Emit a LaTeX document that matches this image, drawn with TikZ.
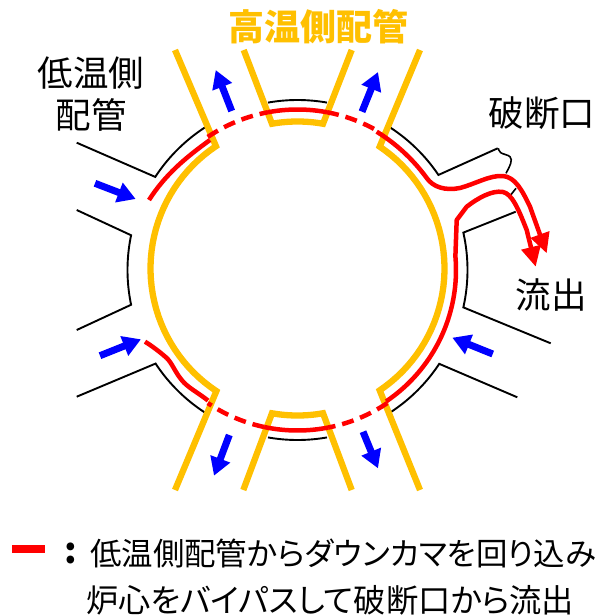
\documentclass[tikz,border=0pt]{standalone}
\usepackage{fontspec}
\usetikzlibrary{arrows.meta}
\newfontfamily\jp[RawFeature=+palt]{Noto Sans CJK JP}
\definecolor{hotyel}{RGB}{255,192,0}
\tikzset{
  yel/.style={draw=hotyel,line width=6.3pt,line join=miter,miter limit=10},
  redl/.style={draw=red,line width=4.5pt,line join=round},
  redd/.style={draw=red,line width=4.5pt,dash pattern=on 12pt off 7pt},
  redarrow/.style={redl,-{Triangle[length=20pt,width=19pt]}},
  blk/.style={draw=black,line width=1.9pt,line join=miter},
  bluearrow/.style={draw=blue,line width=7pt,-{Triangle[length=18pt,width=20pt]}},
  lbl/.style={font=\jp\fontsize{35.5}{35.5}\selectfont,inner sep=0pt,text=black},
  hot/.style={font=\jp\bfseries\fontsize{36}{36}\selectfont,inner sep=0pt,text=hotyel},
  capt/.style={font=\jp\fontsize{34}{34}\selectfont,inner sep=0pt,text=black},
  arcd/.style 2 args={domain=#1:#2,samples=40}
}
\def\yx{297.5+147*cos(\x)}
\def\yy{268.5+147*sin(\x)}
\def\kx{297.5+170*cos(\x)}
\def\ky{270+170*sin(\x)}
\def\rx{297.5+160.5*cos(\x)}
\def\ry{270+160.5*sin(\x)}
\def\sx{297.5+158.5*cos(\x)}
\def\sy{270+158.5*sin(\x)}
\begin{document}
\begin{tikzpicture}[x=1pt,y=-1pt]
\useasboundingbox[fill=white] (0,0) rectangle (596,616);
% black vessel and nozzles
\draw[blk] (76.7,142.7) -- plot[arcd={213.2}{238.6}] ({\kx},{\ky});
\draw[blk] (76.7,210) -- plot[arcd={191.8}{168.2}] ({\kx},{\ky}) -- (76.7,330);
\draw[blk] (76.7,396.7) -- plot[arcd={146.6}{121.9}] ({\kx},{\ky});
\draw[blk] plot[arcd={260}{280}] ({\kx},{\ky});
\draw[blk] plot[arcd={80}{100}] ({\kx},{\ky});
\draw[blk] plot[arcd={58.4}{33.5}] ({\kx},{\ky}) -- (517.3,397.3);
\draw[blk] (550.7,343.3) -- plot[arcd={12.7}{-12.7}] ({\kx},{\ky}) -- (515.7,211.7);
\draw[blk] plot[arcd={-58.6}{-34}] ({\kx},{\ky}) -- (497.7,148.3);
\draw[blk,line width=1.6pt] plot[smooth,tension=.6] coordinates {(498.3,148.3) (500.7,152.7) (510,156.7) (510.7,163.3) (506,173.3)};
\draw[blk,line width=1.6pt] (516,188.3) -- (510.7,195);
% yellow pipes
\draw[yel] (175,50) -- plot[arcd={236.3}{123.5}] ({\yx},{\yy}) -- (175,490);
\draw[yel] (243.7,50) -- plot[arcd={260}{280}] ({\yx},{\yy}) -- (351.7,50);
\draw[yel] (420,50) -- plot[arcd={-56}{56}] ({\yx},{\yy}) -- (420,490);
\draw[yel] (243.3,490) -- plot[arcd={100}{80}] ({\yx},{\yy}) -- (351.7,490);
% red flow
\draw[redl] (149,200) .. controls (165,175) and (185,158) .. (210,140);
\draw[redd] plot[arcd={236}{259.4}] ({\rx},{\ry});
\draw[redl] plot[arcd={259.4}{280.6}] ({\rx},{\ry});
\draw[redd] plot[arcd={280.6}{300}] ({\rx},{\ry});
\draw[redarrow] (376.7,131.7) .. controls (395,143) and (412,158) .. (426.7,178) .. controls (433,187) and (445,191) .. (460,188) .. controls (475,184) and (490,175) .. (503,176) .. controls (515,177) and (522,190) .. (530,206.7) -- (546.7,253.3);
\draw[redarrow] plot[arcd={56}{-5}] ({\sx},{\sy}) -- (456.7,220) -- (466.7,206.7) .. controls (478,198) and (492,190) .. (503,192) .. controls (512,194) and (518,208) .. (526.7,230) -- (535.7,266.7);
\draw[redd] plot[arcd={56}{79}] ({\rx},{\ry});
\draw[redl] plot[arcd={79}{102}] ({\rx},{\ry});
\draw[redd] plot[arcd={102}{124}] ({\rx},{\ry});
\draw[redl] (208,400.5) .. controls (197,392) and (187,387) .. (181.7,380) .. controls (175,372) and (172,363) .. (166.7,358) .. controls (160,352) and (152,346) .. (145,341.7);
% blue arrows
\draw[bluearrow] (231.7,111) -- (215.7,70);
\draw[bluearrow] (362,111.7) -- (378,72);
\draw[bluearrow] (95,183.3) -- (135.7,199);
\draw[bluearrow] (100,355.7) -- (141,339.3);
\draw[bluearrow] (229.3,435) -- (214,475.7);
\draw[bluearrow] (363,431.7) -- (378,468.3);
\draw[bluearrow] (492.7,354) -- (452.3,337.7);
% legend dash
\coordinate (dashl) at (12,549);
\coordinate (dashr) at (45,549);
\draw[draw=red,line width=8pt] (dashl) -- (dashr);
% texts
\node[hot] (hotlabel) at (318.5,27) {高温側配管};
\node[lbl] (cold1) at (91,73) {低温側};
\node[lbl] (cold2) at (91,115) {配管};
\node[lbl] (brk) at (542,113) {破断口};
\node[lbl] (outf) at (551,295) {流出};
\node[capt,font=\jp\bfseries\fontsize{36}{36}\selectfont] (colon) at (71,553) {:};
\node[capt,anchor=west] (cap1) at (90,553) {\resizebox{506pt}{!}{低温側配管からダウンカマを回り込み}};
\node[capt,anchor=west] (cap2) at (86,600) {\resizebox{488pt}{!}{炉心をバイパスして破断口から流出}};
\end{tikzpicture}
\end{document}
